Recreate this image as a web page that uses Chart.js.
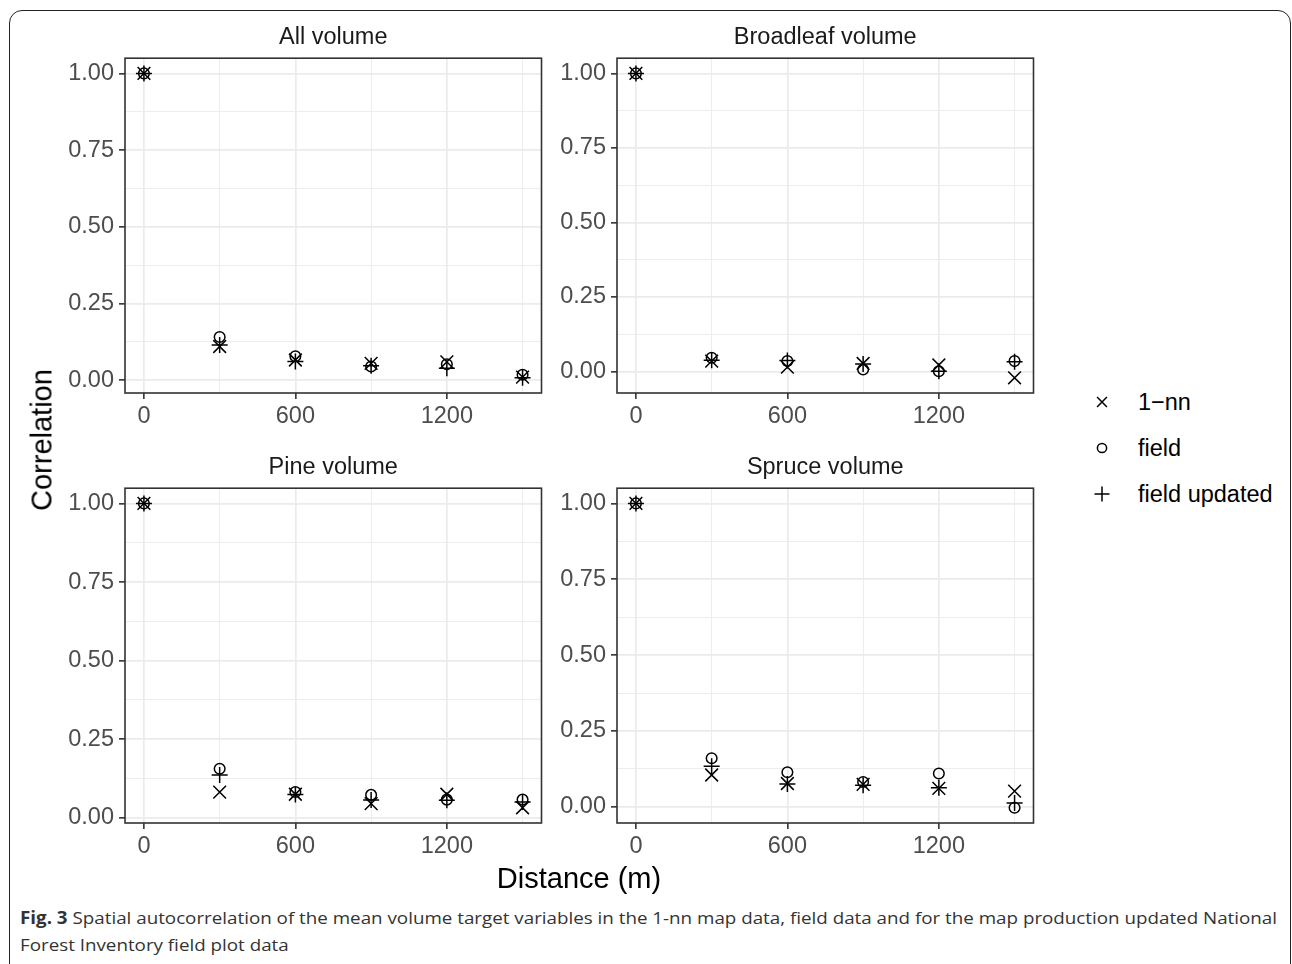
<!DOCTYPE html>
<html>
<head>
<meta charset="utf-8">
<script src="https://cdn.jsdelivr.net/npm/chart.js@4/dist/chart.umd.min.js"></script>
<style>
  body { margin: 0; background: #fff; width: 1292px; height: 964px; overflow: hidden; position: relative; font-family: 'Liberation Sans', Arial, sans-serif; }
  .frame { position: absolute; left: 9px; top: 10px; width: 1280px; height: 970px; border: 1.5px solid #222; border-radius: 13px; }
  canvas { position: absolute; }
  .axtitle { position: absolute; font-size: 29px; color: #000; white-space: nowrap; }
  .legend { position: absolute; left: 1085px; top: 380px; }
  .legrow { position: relative; height: 46px; }
  .legrow canvas { left: 0; top: 5px; }
  .legrow span { position: absolute; left: 53px; top: 9px; font-size: 23.5px; color: #000; white-space: nowrap; }
  .caption { position: absolute; left: 20px; top: 904px; font-family: 'Open Sans', sans-serif; font-size: 17px; color: #333; white-space: nowrap; transform-origin: 0 0; line-height: 27px; }
</style>
</head>
<body>
<div class="frame"></div>

<canvas id="c0"></canvas>
<canvas id="c1"></canvas>
<canvas id="c2"></canvas>
<canvas id="c3"></canvas>

<div class="axtitle" id="ytitle" style="left:42px; top:440px; transform: translate(-50%,-50%) rotate(-90deg);">Correlation</div>
<div class="axtitle" style="left:579px; top:878px; transform: translate(-50%,-50%);">Distance (m)</div>

<div class="legend">
  <div class="legrow"><canvas id="l0" width="34" height="34"></canvas><span>1−nn</span></div>
  <div class="legrow"><canvas id="l1" width="34" height="34"></canvas><span>field</span></div>
  <div class="legrow"><canvas id="l2" width="34" height="34"></canvas><span>field updated</span></div>
</div>

<div class="caption" id="cap">
  <div><b>Fig. 3</b> Spatial autocorrelation of the mean volume target variables in the 1-nn map data, field data and for the map production updated National</div>
  <div>Forest Inventory field plot data</div>
</div>

<script>
'use strict'

// distances between plots (m)
const distances = [0, 300, 600, 900, 1200, 1500];
const seriesNames = ['1−nn', 'field', 'field updated'];

// All volume
const allNN    = [1.00, 0.110, 0.066, 0.055, 0.060, 0.010];
const allField = [1.00, 0.141, 0.078, 0.045, 0.052, 0.018];
const allUpd   = [1.00, 0.115, 0.061, 0.047, 0.039, 0.008];

// Broadleaf volume
const broadNN    = [1.00, 0.035, 0.015, 0.027, 0.022, -0.021];
const broadField = [1.00, 0.046, 0.035, 0.007, 0.001, 0.035];
const broadUpd   = [1.00, 0.038, 0.037, 0.025, 0.001, 0.033];

// Pine volume
const pineNN    = [1.00, 0.082, 0.075, 0.045, 0.075, 0.032];
const pineField = [1.00, 0.156, 0.082, 0.073, 0.058, 0.058];
const pineUpd   = [1.00, 0.136, 0.074, 0.057, 0.056, 0.050];

// Spruce volume
const spruceNN    = [1.00, 0.105, 0.077, 0.074, 0.061, 0.052];
const spruceField = [1.00, 0.160, 0.114, 0.082, 0.110, -0.003];
const spruceUpd   = [1.00, 0.134, 0.075, 0.071, 0.063, 0.013];

const xBreaks = [0, 300, 600, 900, 1200, 1500];
const xMajor = [0, 600, 1200];
const yBreaks = [0, 0.125, 0.25, 0.375, 0.5, 0.625, 0.75, 0.875, 1];

Chart.defaults.font.family = "'Liberation Sans', Arial, sans-serif";
Chart.defaults.animation = false;

const styles = [
  { pointStyle: 'crossRot', radius: 9 },
  { pointStyle: 'circle', radius: 5.3 },
  { pointStyle: 'cross', radius: 8 }
];

const panelBorder = {
  id: 'panelBorder',
  afterDraw(chart) {
    const { ctx, chartArea: a } = chart;
    ctx.save();
    ctx.strokeStyle = '#333333';
    ctx.lineWidth = 1.6;
    ctx.strokeRect(a.left, a.top, a.right - a.left, a.bottom - a.top);
    ctx.restore();
  }
};

const isYMajor = v => Math.abs(v / 0.25 - Math.round(v / 0.25)) < 1e-6;

function makePanel(id, title, nn, field, upd, left, top) {
  const canvas = document.getElementById(id);
  canvas.width = 512;
  canvas.height = 410;
  canvas.style.left = left + 'px';
  canvas.style.top = top + 'px';

  const all = nn.concat(field, upd);
  const lo = Math.min(...all), hi = Math.max(...all);
  const pad = (hi - lo) * 0.05;

  const sets = [nn, field, upd].map((vals, i) => ({
    label: seriesNames[i],
    data: distances.map((d, j) => ({ x: d, y: vals[j] })),
    pointStyle: styles[i].pointStyle,
    pointRadius: styles[i].radius,
    pointBorderColor: '#000',
    pointBackgroundColor: 'rgba(0,0,0,0)',
    pointBorderWidth: 1.5,
    showLine: false
  }));

  new Chart(canvas, {
    type: 'scatter',
    data: { datasets: sets },
    options: {
      responsive: false,
      devicePixelRatio: 1,
      layout: { padding: { left: 0, right: 4, top: 0, bottom: 0 } },
      plugins: {
        legend: { display: false },
        tooltip: { enabled: false },
        title: {
          display: true,
          text: title,
          fullSize: false,
          color: '#1a1a1a',
          font: { size: 23.5, weight: 'normal' },
          padding: { top: 0, bottom: 7 }
        }
      },
      scales: {
        x: {
          type: 'linear',
          min: -75,
          max: 1575,
          afterBuildTicks: s => { s.ticks = xBreaks.map(v => ({ value: v })); },
          afterFit: s => { s.height = 40; },
          border: { display: false },
          grid: {
            color: '#ebebeb',
            lineWidth: c => xMajor.includes(c.tick.value) ? 1.7 : 0.9,
            tickColor: c => xMajor.includes(c.tick.value) ? '#333333' : 'rgba(0,0,0,0)',
            tickLength: 6,
            tickWidth: 1.6
          },
          ticks: {
            autoSkip: false,
            maxRotation: 0,
            padding: 3,
            color: '#4d4d4d',
            font: { size: 23.5 },
            callback: v => xMajor.includes(v) ? String(v) : ''
          }
        },
        y: {
          type: 'linear',
          min: lo - pad,
          max: hi + pad,
          afterBuildTicks: s => { s.ticks = yBreaks.filter(v => v >= s.min && v <= s.max).map(v => ({ value: v })); },
          afterFit: s => { s.width = 85; },
          border: { display: false },
          grid: {
            color: '#ebebeb',
            lineWidth: c => isYMajor(c.tick.value) ? 1.7 : 0.9,
            tickColor: c => isYMajor(c.tick.value) ? '#333333' : 'rgba(0,0,0,0)',
            tickLength: 6,
            tickWidth: 1.6
          },
          ticks: {
            autoSkip: false,
            padding: 5,
            color: '#4d4d4d',
            font: { size: 23.5 },
            callback: v => isYMajor(v) ? v.toFixed(2) : ''
          }
        }
      }
    },
    plugins: [panelBorder]
  });
}

makePanel('c0', 'All volume', allNN, allField, allUpd, 40, 23);
makePanel('c1', 'Broadleaf volume', broadNN, broadField, broadUpd, 532, 23);
makePanel('c2', 'Pine volume', pineNN, pineField, pineUpd, 40, 453);
makePanel('c3', 'Spruce volume', spruceNN, spruceField, spruceUpd, 532, 453);

// legend keys
styles.forEach((s, i) => {
  const ctx = document.getElementById('l' + i).getContext('2d');
  ctx.strokeStyle = '#000';
  ctx.fillStyle = 'rgba(0,0,0,0)';
  ctx.lineWidth = 1.5;
  const r = s.pointStyle === 'crossRot' ? 7 : (s.pointStyle === 'circle' ? 4.6 : 7.5);
  Chart.helpers.drawPoint(ctx, { pointStyle: s.pointStyle, radius: r, borderWidth: 1.5 }, 17, 17);
});

// squeeze caption to the figure width
const cap = document.getElementById('cap');
const firstLine = cap.children[0];
const w = firstLine.getBoundingClientRect().width;
cap.style.transform = 'scaleX(' + (1257 / w) + ')';
</script>
</body>
</html>
